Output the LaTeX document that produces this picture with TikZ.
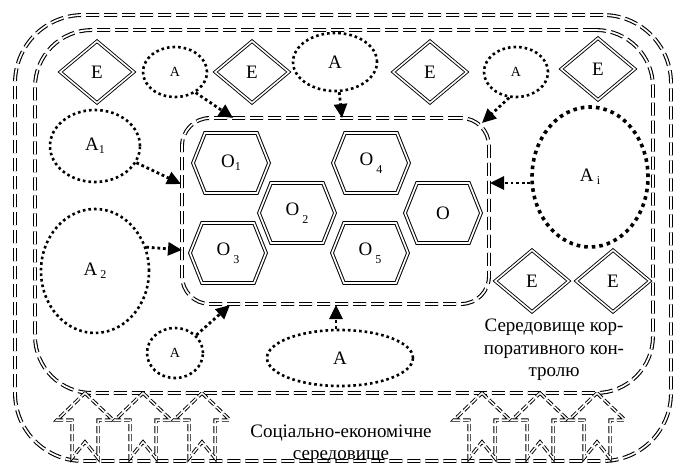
\documentclass[tikz,border=0pt]{standalone}
\usepackage{fontspec}
\setmainfont{Liberation Serif}
\usetikzlibrary{shapes.geometric,arrows.meta}
\newcommand\sbx[1]{\raisebox{-0.35ex}{\fontsize{12}{12}\selectfont #1}}
\newcommand\sbl[1]{\raisebox{-0.9ex}{\fontsize{12}{12}\selectfont #1}}
\newcommand\hexa[4]{%
  \draw[hexline] (#2-38,#3) -- (#2-26,#3-30) -- (#2+26,#3-30) -- (#2+38,#3) -- (#2+26,#3+30) -- (#2-26,#3+30) -- cycle;
  \node[lbl] (#1) at (#2,#3) {#4};}
\newcommand\blockarr[1]{%
  \draw[arrline] (#1,393) -- (#1+28,420) -- (#1+13,420) -- (#1+13,458) -- (#1,442) -- (#1-13,458) -- (#1-13,420) -- (#1-28,420) -- cycle;}
\begin{document}
\begin{tikzpicture}[x=1pt,y=-1pt,
  envline/.style={draw, double, line width=1.1pt, double distance=1.7pt, dash pattern=on 13pt off 5pt},
  arrline/.style={draw, double, line width=0.95pt, double distance=1.5pt, dash pattern=on 7pt off 3pt},
  hexline/.style={draw, double, line width=1pt, double distance=1.7pt},
  lbl/.style={font=\fontsize{19}{22}\selectfont, inner sep=0pt},
  dia/.style={diamond, draw, double, line width=0.9pt, double distance=1.6pt, minimum width=74pt, minimum height=62pt, inner sep=0pt, font=\fontsize{19}{22}\selectfont},
  dotell/.style={ellipse, draw, line width=2.6pt, dash pattern=on 2.6pt off 3pt, inner sep=0pt, font=\fontsize{19}{22}\selectfont},
  conn/.style={line width=2.8pt, dash pattern=on 2.8pt off 2.8pt, -{Triangle[length=14pt,width=13pt]}},
  txt/.style={font=\fontsize{19}{22.5}\selectfont, align=center, inner sep=0pt}]
\useasboundingbox (0,0) rectangle (675,463);
% environments
\node[envline, rounded corners=68pt, minimum width=656pt, minimum height=446pt, inner sep=0pt] (socenv) at (343,238) {};
\node[envline, rounded corners=57pt, minimum width=618pt, minimum height=363pt, inner sep=0pt] (corpenv) at (344,211.5) {};
\node[envline, rounded corners=28pt, minimum width=307pt, minimum height=186pt, inner sep=0pt] (core) at (335.5,211) {};
% objects
\hexa{o1}{231}{163}{O\sbx{1}}
\hexa{o2}{297}{213}{O\,\sbl{2}}
\hexa{o3}{228}{253}{O\,\sbl{3}}
\hexa{o4}{371}{163}{O\,\sbl{4}}
\hexa{o6}{443}{213}{O}
\hexa{o5}{370}{253}{O\,\sbl{5}}
% E diamonds
\node[dia] (e1) at (97,72) {E};
\node[dia] (e2) at (252,72) {E};
\node[dia] (e3) at (430,72) {E};
\node[dia] (e4) at (598,69) {E};
\node[dia] (e5) at (532,281) {E};
\node[dia] (e6) at (613,281) {E};
% actors
\node[dotell, minimum width=64pt, minimum height=50pt, font=\fontsize{14}{14}\selectfont] (atl) at (175,72) {A};
\node[dotell, minimum width=84pt, minimum height=58pt] (atop) at (335,62) {A};
\node[dotell, minimum width=64pt, minimum height=50pt, font=\fontsize{14}{14}\selectfont] (atr) at (516,72) {A};
\node[dotell, minimum width=90pt, minimum height=72pt] (a1) at (95,146) {A\sbx{1}};
\node[dotell, minimum width=108pt, minimum height=124pt] (a2) at (95,271) {A\,\sbx{2}};
\node[dotell, line width=3.6pt, dash pattern=on 3.6pt off 4pt, minimum width=116pt, minimum height=140pt] (ai) at (590,177) {A\,\sbx{i}};
\node[dotell, minimum width=56pt, minimum height=50pt, font=\fontsize{14}{14}\selectfont] (abl) at (175,353) {A};
\node[dotell, minimum width=146pt, minimum height=56pt] (abm) at (340,358) {A};
% connector end points on the core border
\coordinate (ctl) at (233,118);
\coordinate (ctop) at (342,118);
\coordinate (ctr) at (482,123);
\coordinate (cl1) at (181,184);
\coordinate (cl2) at (182,250);
\coordinate (cr) at (490,183);
\coordinate (cbl) at (230,305);
\coordinate (cbm) at (336,305);
\draw[conn] (atl.-45) -- (ctl);
\draw[conn] (atop.-82) -- (ctop);
\draw[conn] (atr.-105) -- (ctr);
\draw[conn] (a1.-22) -- (cl1);
\draw[conn] (a2.25) -- (cl2);
\draw[conn] (ai.west |- cr) -- (cr);
\draw[conn] (abl.40) -- (cbl);
\draw[conn] (abm.north -| cbm) -- (cbm);
% block arrows
\blockarr{85}
\blockarr{143}
\blockarr{202}
\blockarr{482}
\blockarr{540}
\blockarr{597}
% texts
\node[txt] (corptxt) at (554,350) {Середовище кор-\\поративного кон-\\тролю};
\node[txt] (soctxt) at (341,444) {Соціально-економічне\\середовище};
\end{tikzpicture}
\end{document}
